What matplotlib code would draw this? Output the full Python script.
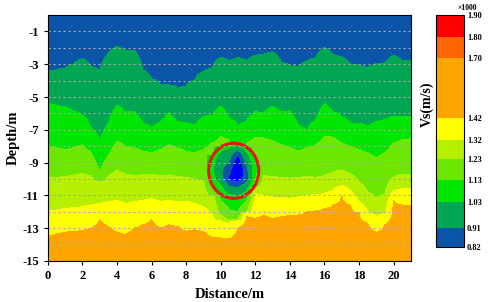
import numpy as np
import matplotlib
matplotlib.use('Agg')
from matplotlib import pyplot as plt
from matplotlib.colors import ListedColormap, BoundaryNorm
from matplotlib.cm import ScalarMappable
from matplotlib.patches import Ellipse

plt.rcParams['font.family'] = 'Liberation Serif'
plt.rcParams['font.weight'] = 'bold'
plt.rcParams['axes.unicode_minus'] = False

# distance positions (m) of the sampled columns
dist = np.arange(0, 21.01, 0.5)

# depth (m) of each velocity boundary along distance
b_091 = [-3.45, -3.35, -3.25, -3.0, -2.65, -3.15, -3.42, -2.34, -1.9, -2.2, -2.14,
         -3.35, -3.9, -4.25, -4.27, -4.52, -4.35, -3.97, -3.46, -3.25, -2.58, -2.81,
         -2.6, -2.78, -2.45, -2.4, -2.24, -2.9, -3.05, -3.18, -2.78, -2.6, -1.97,
         -2.42, -2.58, -2.99, -3.05, -3.24, -2.97, -2.92, -2.45, -2.8, -2.8]
b_103 = [-5.35, -5.5, -5.6, -5.85, -6.1, -6.85, -7.75, -6.6, -5.5, -5.9, -5.86,
         -6.6, -6.85, -6.55, -5.96, -6.5, -6.58, -6.72, -6.2, -6.1, -5.56, -6.3,
         -6.8, -6.5, -5.9, -5.96, -5.56, -5.9, -5.84, -6.72, -7.06, -6.41, -5.39,
         -5.9, -6.21, -6.6, -6.59, -6.82, -6.51, -6.39, -6.17, -6.17, -6.2]
b_113 = [-8.0, -8.1, -8.2, -8.1, -7.9, -8.4, -9.6, -8.6, -7.7, -8.0, -8.1,
         -8.3, -8.4, -8.2, -7.9, -8.1, -8.3, -8.4, -8.2, -7.8, -7.4, -7.6,
         -8.0, -7.8, -7.45, -7.5, -7.65, -7.9, -8.05, -8.3, -8.1, -7.9, -7.4,
         -7.45, -7.8, -8.0, -8.2, -8.4, -8.7, -8.4, -7.8, -7.6, -7.55]
b_123 = [-9.95, -9.9, -9.85, -9.75, -9.65, -9.8, -10.2, -9.8, -9.45, -9.7, -9.8,
         -9.75, -9.7, -9.8, -9.75, -9.85, -9.9, -10.0, -10.1, -10.2, -10.4, -10.5,
         -10.3, -10.0, -9.8, -9.8, -9.85, -9.9, -9.95, -9.9, -9.85, -9.9, -9.8,
         -9.6, -9.45, -9.7, -10.2, -10.8, -11.2, -10.9, -9.9, -9.7, -9.7]
b_132 = [-12.0, -11.9, -11.8, -11.75, -11.7, -11.6, -11.5, -11.4, -11.3, -11.5, -11.4,
         -11.3, -11.2, -11.4, -11.3, -11.4, -11.35, -11.5, -11.7, -12.2, -12.6, -12.8,
         -12.2, -11.3, -10.9, -11.0, -11.1, -11.1, -11.2, -11.1, -11.0, -10.95, -10.9,
         -10.7, -10.4, -10.7, -11.4, -12.0, -12.3, -12.1, -10.7, -10.6, -10.6]
b_142 = [-13.5, -13.35, -13.25, -13.2, -13.15, -13.0, -12.5, -12.9, -13.25, -13.4, -13.0,
         -12.8, -12.5, -13.0, -12.8, -12.9, -13.2, -13.1, -13.2, -13.55, -13.6, -13.65,
         -13.0, -12.3, -12.4, -12.2, -12.4, -12.3, -12.2, -12.2, -12.0, -11.95, -11.8,
         -11.6, -11.0, -11.6, -12.1, -12.7, -13.25, -12.8, -11.3, -11.6, -11.6]

# low velocity body (x1000 m/s), columns x = 9.0 .. 12.5, rows depth -7.5 .. -13
anom_x = [9.0, 9.5, 10.0, 10.5, 11.0, 11.5, 12.0, 12.5]
anom_d = [-7.5, -8.0, -8.5, -9.0, -9.5, -10.0, -10.5, -11.0, -11.5, -12.0, -12.5, -13.0]
anom_v = [
    [2.0, 2.0, 2.0, 2.0, 1.12, 2.0, 2.0, 2.0],
    [2.0, 2.0, 1.08, 1.05, 1.00, 1.10, 2.0, 2.0],
    [2.0, 1.10, 1.00, 0.95, 0.82, 1.00, 1.15, 2.0],
    [2.0, 1.06, 0.95, 0.90, 0.74, 0.93, 1.10, 2.0],
    [2.0, 1.05, 0.92, 0.84, 0.70, 0.87, 1.10, 2.0],
    [2.0, 1.08, 0.95, 0.80, 0.78, 0.86, 1.12, 2.0],
    [2.0, 1.12, 1.05, 0.92, 0.90, 0.98, 1.20, 2.0],
    [2.0, 1.20, 1.10, 1.04, 1.02, 1.08, 2.0, 2.0],
    [2.0, 2.0, 1.15, 1.10, 1.09, 1.15, 2.0, 2.0],
    [2.0, 2.0, 1.20, 1.14, 1.13, 1.22, 2.0, 2.0],
    [2.0, 2.0, 1.28, 1.22, 1.24, 2.0, 2.0, 2.0],
    [2.0, 2.0, 2.0, 2.0, 2.0, 2.0, 2.0, 2.0],
]

levels = [0.82, 0.91, 1.03, 1.13, 1.23, 1.32, 1.42, 1.70, 1.80, 1.90]
colors = ['#0B55A8', '#00A651', '#00E600', '#6CE800', '#B4F000',
          '#FFFF00', '#FFA500', '#FF6600', '#FF0000']
v_top, v_bottom = 0.86, 1.50

# build the velocity field column by column
depth = np.linspace(0, -15, 301)
bounds = np.array([b_091, b_103, b_113, b_123, b_132, b_142])
Z = np.zeros((len(depth), len(dist)))
for j in range(len(dist)):
    xp = np.concatenate([[0], -bounds[:, j], [15]])
    fp = [v_top] + levels[1:7] + [v_bottom]
    Z[:, j] = np.interp(-depth, xp, fp)
anom_v = np.array(anom_v)
for k, xa in enumerate(anom_x):
    j = int(round(xa / 0.5))
    col = np.interp(-depth, -np.array(anom_d), anom_v[:, k], left=2.0, right=2.0)
    Z[:, j] = np.minimum(Z[:, j], col)

fig = plt.figure(figsize=(4.88, 3.02), dpi=100)
ax = fig.add_axes([0.098, 0.136, 0.744, 0.814])
ax.contourf(dist, depth, Z, levels=[0.5] + levels, colors=['#0000FF'] + colors)

for d in range(-14, 0):
    ax.axhline(d, color='#A8A8A8', lw=0.8, ls=(0, (2, 2.5)))

ax.add_patch(Ellipse((10.75, -9.5), 2.9, 3.36, fill=False, edgecolor='#E8141C', lw=2.2))

ax.set_xlim(0, 21)
ax.set_ylim(-15, 0)
ax.set_xticks(range(0, 21, 2))
ax.set_yticks(range(-15, 0, 2))
ax.tick_params(labelsize=9, length=3, width=0.8)
for s in ax.spines.values():
    s.set_linewidth(0.8)
ax.set_xlabel('Distance/m', fontsize=10.5, fontweight='bold')
ax.set_ylabel('Depth/m', fontsize=10.5, fontweight='bold', labelpad=2)

cax = fig.add_axes([0.893, 0.182, 0.058, 0.768])
sm = ScalarMappable(norm=BoundaryNorm(levels, len(colors)), cmap=ListedColormap(colors))
cb = fig.colorbar(sm, cax=cax, spacing='proportional', ticks=levels)
cb.ax.set_yticklabels(['%.2f' % v for v in levels])
cb.ax.tick_params(labelsize=6, length=0, pad=2)
cb.outline.set_linewidth(0.8)
fig.text(0.875, 0.656, 'Vs(m/s)', rotation=90, ha='center', va='center',
         fontsize=10, fontweight='bold')
fig.text(0.958, 0.975, '×1000', ha='center', va='center', fontsize=5.5, fontweight='bold')

fig.savefig('out.png', dpi=100)
